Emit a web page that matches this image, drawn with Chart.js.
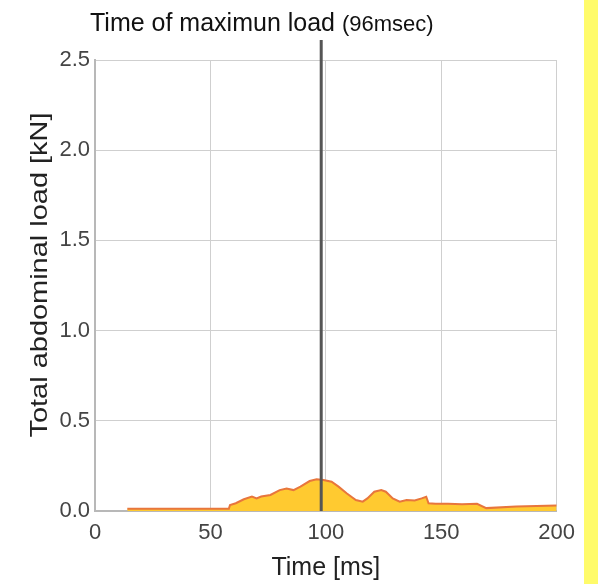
<!DOCTYPE html>
<html>
  <head>
    <title>Abdominal load</title>
    <meta charset="UTF-8">
    <script src="https://cdn.jsdelivr.net/npm/chart.js@4/dist/chart.umd.min.js"></script>
    <style type="text/css">
      html, body { margin: 0; padding: 0; background: #fff; }
      #wrap { position: relative; width: 598px; height: 584px; }
      #chart-box { position: absolute; left: 0; top: 0; width: 584px; height: 584px; }
      #strip { position: absolute; left: 584px; top: 0; width: 14px; height: 584px; background: #fffb6a; }
    </style>
  </head>
  <body>
    <div id="wrap">
      <div id="chart-box"><canvas id="load-chart"></canvas></div>
      <div id="strip"></div>
    </div>
    <script type="text/javascript">
      // values
      const time_ms = [14, 58, 58.5, 61, 64.5, 68, 70, 72, 76, 80, 83, 86, 89, 93, 96, 99, 102.5, 105.5, 109, 113, 116, 118, 121, 124, 126, 129, 132, 135, 138.5, 141.5, 143.5, 144.5, 147.5, 153, 159, 165.5, 169.5, 182.5, 200];
      const load_kN = [0.013, 0.013, 0.033, 0.043, 0.065, 0.08, 0.07, 0.08, 0.089, 0.116, 0.125, 0.116, 0.135, 0.166, 0.176, 0.172, 0.162, 0.135, 0.098, 0.061, 0.052, 0.07, 0.107, 0.116, 0.107, 0.07, 0.052, 0.061, 0.058, 0.07, 0.079, 0.043, 0.04, 0.04, 0.038, 0.04, 0.016, 0.025, 0.03];
      const x_ticks = [0, 50, 100, 150, 200];
      const y_ticks = [0, 0.5, 1.0, 1.5, 2.0, 2.5];
      const max_load_time = 98;

      const FONT = '"Liberation Sans", Arial, sans-serif';
      var ctx = document.getElementById("load-chart");

      // title, y axis title (stretched like the scan) and the max-load marker
      const overlay = {
        id: 'overlay',
        afterDatasetsDraw(chart) {
          const c = chart.ctx;
          const area = chart.chartArea;
          const xp = chart.scales.x.getPixelForValue(max_load_time);
          c.save();
          c.strokeStyle = '#555';
          c.lineWidth = 3;
          c.beginPath();
          c.moveTo(xp, 40);
          c.lineTo(xp, area.bottom);
          c.stroke();

          c.fillStyle = '#111';
          c.textBaseline = 'alphabetic';
          c.font = '25px ' + FONT;
          const main = 'Time of maximun load ';
          c.fillText(main, 90, 31);
          const w = c.measureText(main).width;
          c.font = '22px ' + FONT;
          c.fillText('(96msec)', 90 + w, 31);

          // y title
          const ytxt = 'Total abdominal load [kN]';
          c.font = '24px ' + FONT;
          const yw = c.measureText(ytxt).width;
          c.translate(40, 275);
          c.rotate(-Math.PI / 2);
          c.scale(325 / yw, 1);
          c.textAlign = 'center';
          c.textBaseline = 'middle';
          c.fillStyle = '#222';
          c.fillText(ytxt, 0, 0);
          c.restore();
        }
      };

      var loadChart = new Chart(ctx, {
        type: 'line',
        data: {
          datasets: [{
            data: time_ms.map((t, i) => ({ x: t, y: load_kN[i] })),
            borderColor: '#e8763c',
            backgroundColor: '#ffca30',
            borderWidth: 2,
            pointRadius: 0,
            tension: 0,
            fill: 'origin'
          }]
        },
        options: {
          responsive: true,
          maintainAspectRatio: false,
          animation: false,
          layout: { padding: { top: 60, right: 27, left: 0, bottom: 0 } },
          plugins: {
            legend: { display: false },
            tooltip: { enabled: false }
          },
          scales: {
            x: {
              type: 'linear',
              min: 0,
              max: 200,
              afterBuildTicks: s => { s.ticks = x_ticks.map(v => ({ value: v })); },
              afterFit: s => { s.height = 73; },
              grid: { color: '#cfcfcf', lineWidth: 1, drawTicks: false },
              border: { color: '#b8b8b8', width: 2 },
              ticks: {
                color: '#444',
                padding: 9,
                font: { family: FONT, size: 22 }
              },
              title: {
                display: true,
                text: 'Time [ms]',
                color: '#222',
                padding: { top: 0, bottom: 1 },
                font: { family: FONT, size: 25 }
              }
            },
            y: {
              min: 0,
              max: 2.5,
              afterBuildTicks: s => { s.ticks = y_ticks.map(v => ({ value: v })); },
              afterFit: s => { s.width = 95; },
              grid: { color: '#cfcfcf', lineWidth: 1, drawTicks: false },
              border: { color: '#b8b8b8', width: 2 },
              ticks: {
                color: '#444',
                padding: 5,
                font: { family: FONT, size: 22 },
                callback: v => v.toFixed(1)
              },
              title: { display: false }
            }
          }
        },
        plugins: [overlay]
      });
    </script>
  </body>
</html>
